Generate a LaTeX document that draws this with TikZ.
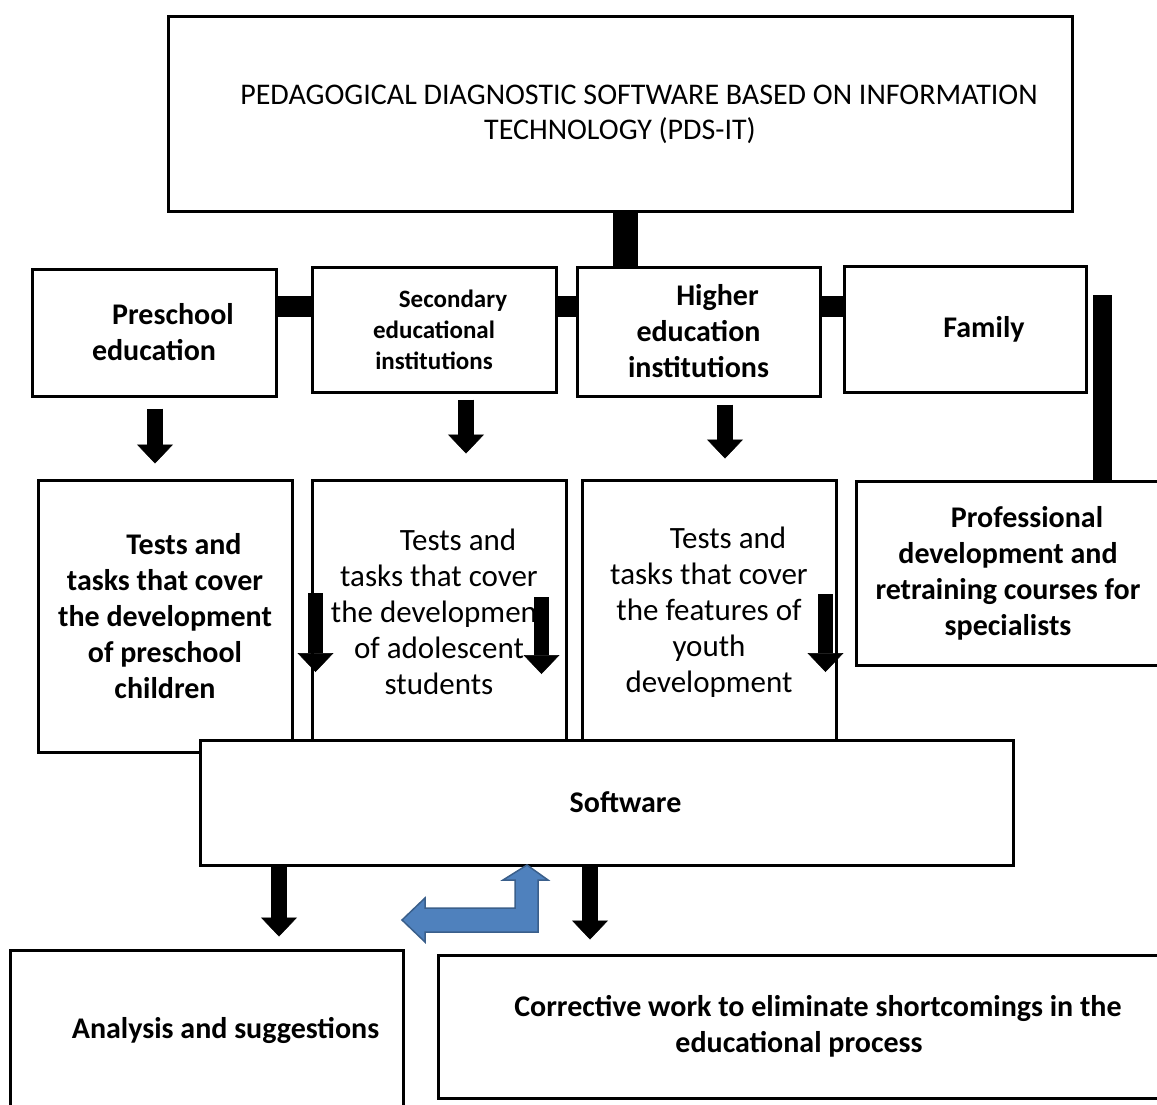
\documentclass[tikz,border=0pt]{standalone}
\usepackage{fontspec}
\setmainfont{Carlito}
\usetikzlibrary{arrows.meta}
\definecolor{arrowblue}{HTML}{4F81BD}
\definecolor{arrowedge}{HTML}{3A5F8B}
\newcommand{\firstind}{\hspace*{38pt}}

\begin{document}
\begin{tikzpicture}[
x=1pt, y=-1pt,
    box/.style={
        draw,
        line width=3pt,
        fill=white,
        align=center,
        inner sep=0pt,
        font=\fontsize{31}{36}\selectfont
    },
    bf/.style={font=\fontsize{30}{36}\selectfont\bfseries},
    bar/.style={line width=21pt},
    blk/.style={line width=16pt, -{Triangle[width=36pt,length=19pt,line width=0.5pt]}}
]
\useasboundingbox (0,0) rectangle (1157,1104);

\node[box, font=\fontsize{30}{35}\selectfont, minimum width=904pt, minimum height=195pt] (pds) at (620,114)
    {\firstind PEDAGOGICAL DIAGNOSTIC SOFTWARE BASED ON INFORMATION\\TECHNOLOGY (PDS-IT)};

% The four users of the software
\node[box, bf, minimum width=244pt, minimum height=127pt] (pre) at (154,332.5) {\firstind Preschool\\education};
\node[box, font=\fontsize{25}{31}\selectfont\bfseries, minimum width=244pt, minimum height=125pt] (sec) at (434,329.5) {\firstind Secondary\\educational\\institutions};
\node[box, bf, minimum width=243pt, minimum height=129pt] (hig) at (698.5,331.5) {\firstind Higher\\education\\institutions};
\node[box, bf, minimum width=242pt, minimum height=126pt] (fam) at (965,329) {\firstind Family};

% The tests for each level
\node[box, bf, minimum width=254pt, minimum height=272pt] (pret) at (165,616) {\firstind Tests and\\tasks that cover\\the development\\of preschool\\children};
\node[box, minimum width=254pt, minimum height=264pt] (sect) at (439,612) {\firstind Tests and\\tasks that cover\\the development\\of adolescent\\students};
\node[box, minimum width=254pt, minimum height=264pt] (higt) at (709,612) {\firstind Tests and\\tasks that cover\\the features of\\youth\\development};
\node[box, bf, minimum width=304pt, minimum height=184pt] (prof) at (1008,573) {\firstind Professional\\development and\\retraining courses for\\specialists};

\node[box, bf, minimum width=813pt, minimum height=125pt] (sw) at (606.5,802.5) {\firstind Software};

\node[box, bf, minimum width=393pt, minimum height=160pt] (ana) at (206.5,1030) {\firstind Analysis and suggestions};
\node[box, bf, minimum width=722pt, minimum height=143pt] (cor) at (799,1026.5) {\firstind Corrective work to eliminate shortcomings in the\\educational process};

% The bars joining the boxes
\coordinate (barend) at (1102.5,295);
\draw[bar, line width=25pt] (pds.south -| 625,0) -- (hig.north -| 625,0);
\draw[bar] (pre.east |- 0,306) -- (sec.west |- 0,306);
\draw[bar] (sec.east |- 0,306) -- (hig.west |- 0,306);
\draw[bar] (hig.east |- 0,306) -- (fam.west |- 0,306);
\draw[bar, line width=19pt] (barend) -- (barend |- prof.north);

% The arrows down to the tests
\draw[blk, shorten <=11pt, shorten >=15pt] (pre.south -| 155,0) -- (pret.north -| 155,0);
\draw[blk, shorten <=6pt, shorten >=25pt] (sec.south -| 466,0) -- (sect.north -| 466,0);
\draw[blk, shorten <=7pt, shorten >=20pt] (hig.south -| 725,0) -- (higt.north -| 725,0);

% The arrows inside the tests
\draw[blk, line width=15pt] (sect.west |- 0,593) ++(5,0) -- ++(0,79);
\draw[blk, line width=15pt] (sect.east |- 0,597) ++(-26,0) -- ++(0,77);
\draw[blk, line width=15pt] (higt.east |- 0,594) ++(-12,0) -- ++(0,78);

% The arrows out of the software
\draw[blk, shorten >=12pt] (sw.south -| 279,0) -- (ana.north -| 279,0);
\draw[blk, shorten >=14pt] (sw.south -| 590,0) -- (cor.north -| 590,0);

% The blue bent arrow
\draw[fill=arrowblue, draw=arrowedge, line width=1.5pt, line join=miter]
    (527,865) -- (548,880) -- (538,880) -- (538,932) -- (425,932) -- (425,942)
    -- (402,920) -- (425,898) -- (425,908) -- (515,908) -- (515,880) -- (503,880) -- cycle;
\end{tikzpicture}
\end{document}
